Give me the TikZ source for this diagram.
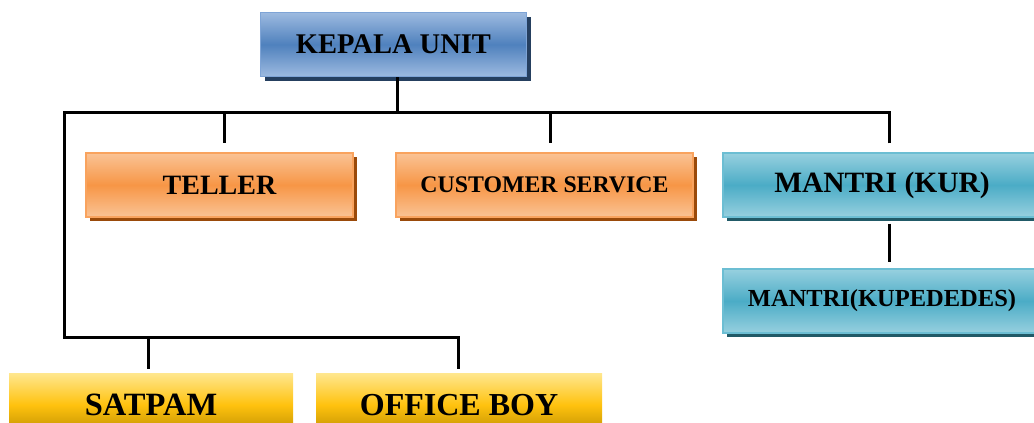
\documentclass[tikz,border=0pt]{standalone}
\usepackage{fontspec}
\setmainfont{Liberation Serif}
\usetikzlibrary{shadows}

\definecolor{bluetop}{HTML}{9DBAE0}
\definecolor{bluemid}{HTML}{4F81BD}
\definecolor{blueedge}{HTML}{7EA4D6}
\definecolor{blueshadow}{HTML}{253F5F}
\definecolor{orgtop}{HTML}{FAC395}
\definecolor{orgmid}{HTML}{F79646}
\definecolor{orgedge}{HTML}{F9A35E}
\definecolor{orgshadow}{HTML}{9A4A0A}
\definecolor{tealtop}{HTML}{97D0DF}
\definecolor{tealmid}{HTML}{4BACC6}
\definecolor{tealedge}{HTML}{6CBED3}
\definecolor{tealshadow}{HTML}{215A67}
\definecolor{yeltop}{HTML}{FFE78F}
\definecolor{yelmid}{HTML}{FFC20E}
\definecolor{yelbot}{HTML}{B88A00}

\tikzset{
  unitbox/.style={rectangle, minimum height=64pt, inner sep=0pt,
    font=\bfseries, text=black, line width=1.3pt},
  bluebox/.style={unitbox, draw=blueedge, top color=bluetop, bottom color=bluetop,
    middle color=bluemid,
    general shadow={fill=blueshadow, shadow xshift=4pt, shadow yshift=-4pt}},
  orgbox/.style={unitbox, draw=orgedge, top color=orgtop, bottom color=orgtop,
    middle color=orgmid,
    general shadow={fill=orgshadow, shadow xshift=4pt, shadow yshift=-4pt}},
  tealbox/.style={unitbox, draw=tealedge, top color=tealtop, bottom color=tealtop,
    middle color=tealmid,
    general shadow={fill=tealshadow, shadow xshift=4pt, shadow yshift=-4pt}},
  yelbox/.style={unitbox, draw=none, top color=yeltop, bottom color=yelbot,
    middle color=yelmid},
  conn/.style={line width=3pt, black, line join=miter},
}

\begin{document}
\begin{tikzpicture}[x=1pt, y=1pt]
  \useasboundingbox (0,-423) rectangle (1034,0);
  \clip (0,-423) rectangle (1034,0);

  % boxes
  \node[bluebox, minimum width=266pt] (kepala) at (393.5,-44.5) {\fontsize{28.5}{28.5}\selectfont KEPALA UNIT};
  \node[orgbox, minimum width=267pt] (teller) at (219.5,-185) {\fontsize{28}{28}\selectfont TELLER};
  \node[orgbox, minimum width=297pt] (cs) at (544.5,-185) {\fontsize{23.8}{23.8}\selectfont CUSTOMER SERVICE};
  \node[tealbox, minimum width=318pt] (kur) at (882,-185) {\fontsize{29.5}{29.5}\selectfont MANTRI (KUR)};
  \node[tealbox, minimum width=318pt] (kupe) at (882,-301) {\fontsize{24.5}{24.5}\selectfont MANTRI(KUPEDEDES)};
  \node[yelbox, minimum width=284pt] (satpam) at (151,-405) {\fontsize{32.5}{32.5}\selectfont SATPAM};
  \node[yelbox, minimum width=286pt] (office) at (459,-405) {\fontsize{32}{32}\selectfont OFFICE BOY};

  % bus lines
  \coordinate (busL) at (64,-112.5);
  \coordinate (busB) at (64,-337.5);
  \coordinate (busR) at ([xshift=7pt]kur.north |- busL);

  \draw[conn] ([xshift=3.5pt]kepala.south) -- ([xshift=3.5pt]kepala.south |- busL);
  \draw[conn] ([yshift=9pt]busR |- kur.north) -- (busR) -- (busL) -- (busB)
    -- ([xshift=-1pt]office.north |- busB) -- ([xshift=-1pt,yshift=3pt]office.north);
  \draw[conn] ([xshift=4.5pt]teller.north |- busL) -- ([xshift=4.5pt,yshift=9pt]teller.north);
  \draw[conn] ([xshift=5.5pt]cs.north |- busL) -- ([xshift=5.5pt,yshift=9pt]cs.north);
  \draw[conn] ([xshift=-3pt]satpam.north |- busB) -- ([xshift=-3pt,yshift=3pt]satpam.north);
  \draw[conn] ([xshift=7pt,yshift=-6pt]kur.south) -- ([xshift=7pt,yshift=6pt]kupe.north);
\end{tikzpicture}
\end{document}
